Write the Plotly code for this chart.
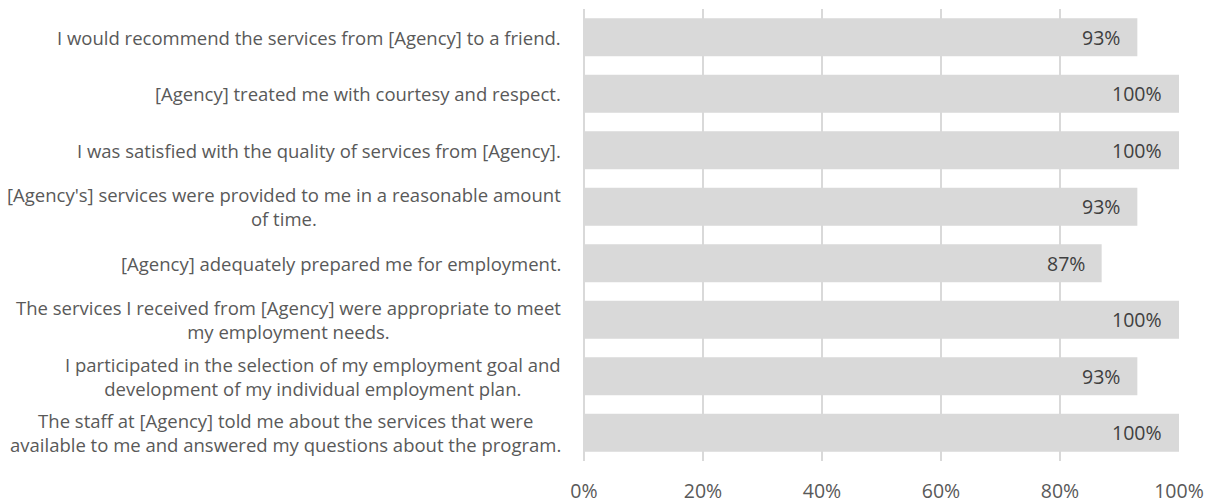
import plotly.graph_objects as go

categories = [
    "I would recommend the services from [Agency] to a friend.",
    "[Agency] treated me with courtesy and respect.",
    "I was satisfied with the quality of services from [Agency].",
    "[Agency's] services were provided to me in a reasonable amount<br>of time.",
    "[Agency] adequately prepared me for employment.",
    "The services I received from [Agency] were appropriate to meet<br>my employment needs.",
    "I participated in the selection of my employment goal and<br>development of my individual employment plan.",
    "The staff at [Agency] told me about the services that were<br>available to me and answered my questions about the program.",
]
values = [0.93, 1.00, 1.00, 0.93, 0.87, 1.00, 0.93, 1.00]
value_labels = ["93%", "100%", "100%", "93%", "87%", "100%", "93%", "100%"]
tick_vals = [0, 0.2, 0.4, 0.6, 0.8, 1.0]
tick_text = ["0%", "20%", "40%", "60%", "80%", "100%"]

FONT = "'Open Sans', sans-serif"

fig = go.Figure()
fig.add_trace(go.Bar(
    x=values,
    y=categories,
    orientation="h",
    marker=dict(color="#d9d9d9", line=dict(width=0)),
    width=0.67,
    hoverinfo="skip",
))

for c in categories:
    fig.add_annotation(
        x=-21 / 595, xref="paper", y=c, yref="y",
        text=c, showarrow=False, xanchor="right", yanchor="middle",
        align="center",
        font=dict(family=FONT, size=18.5, color="#595959"),
    )

for c, v, t in zip(categories, values, value_labels):
    fig.add_annotation(
        x=v, xref="x", y=c, yref="y",
        text=t, showarrow=False, xanchor="right", yanchor="middle",
        xshift=-15,
        font=dict(family=FONT, size=19.5, color="#404040"),
    )

fig.update_layout(
    width=1212, height=504,
    margin=dict(l=584, r=33, t=9, b=43, autoexpand=False),
    paper_bgcolor="white", plot_bgcolor="white",
    showlegend=False,
)
fig.update_xaxes(
    range=[0, 1], tickvals=tick_vals, ticktext=tick_text,
    showgrid=True, gridcolor="#d9d9d9", gridwidth=1.5,
    zeroline=True, zerolinecolor="#d9d9d9", zerolinewidth=1.5,
    showline=False, ticks="", automargin=False,
    tickfont=dict(family=FONT, size=19.5, color="#595959"),
    ticklabelstandoff=16,
)
fig.update_yaxes(
    autorange="reversed", showticklabels=False, showgrid=False,
    zeroline=False, showline=False, ticks="", automargin=False,
)

fig.write_html("out.html")
